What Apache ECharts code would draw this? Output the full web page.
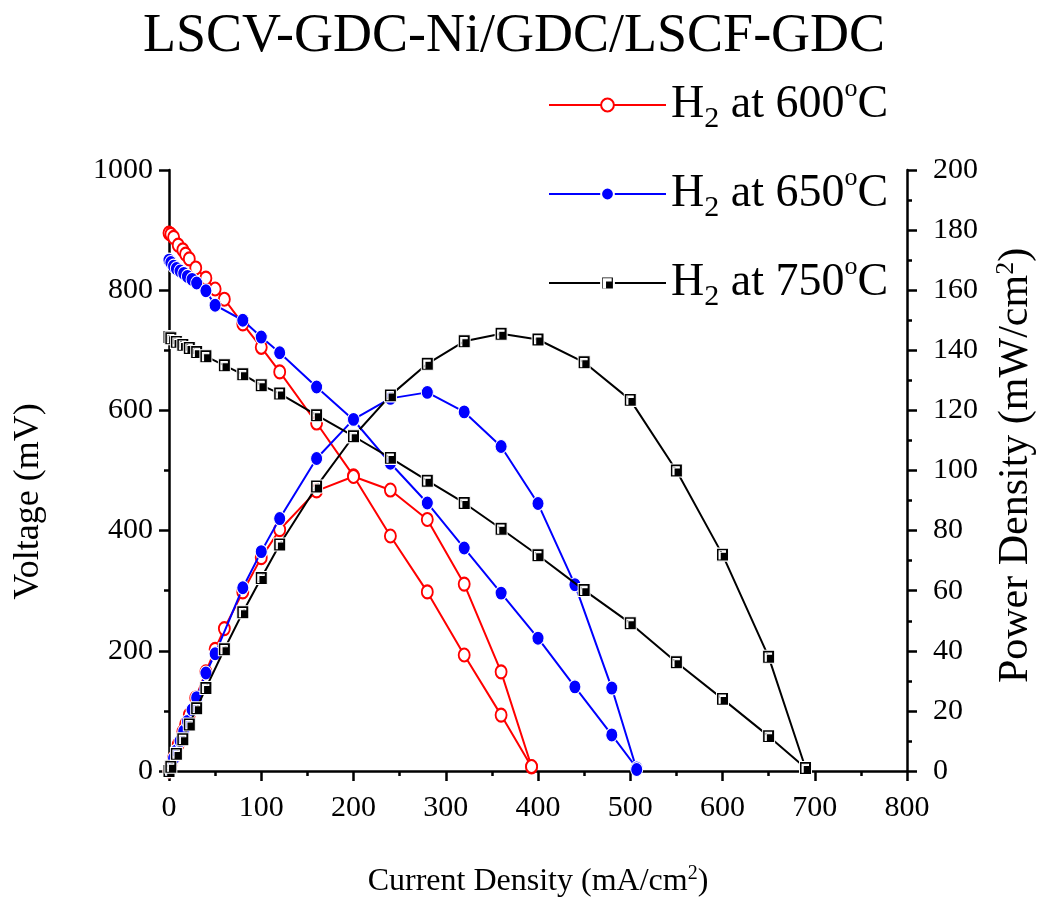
<!DOCTYPE html>
<html>
<head>
<meta charset="utf-8">
<script src="https://cdn.jsdelivr.net/npm/echarts@6/dist/echarts.min.js"></script>
<style>html,body{margin:0;padding:0;background:#fff}#c{width:1040px;height:898px}</style>
</head>
<body>
<div id="c"></div>
<script>
const titleText = 'LSCV-GDC-Ni/GDC/LSCF-GDC';
const seriesNames = ['H{sub|2} at 600{sup|o}C', 'H{sub|2} at 650{sup|o}C', 'H{sub|2} at 750{sup|o}C'];

const currentRed = [0, 2, 5, 10, 15, 18, 22, 29, 40, 50, 60, 80, 100, 120, 160, 200, 240, 280, 320, 360, 393];
const voltageRed = [895, 893, 888, 875, 867, 860, 852, 837, 820, 802, 785, 744, 705, 664, 579, 491, 391, 298, 193, 93, 7];
const powerRed = [0, 1.8, 4.4, 8.8, 13, 15.5, 18.7, 24.3, 33, 40.5, 47.4, 59.6, 71, 80.3, 93.2, 98, 93.5, 83.7, 62.2, 33, 1.5];

const currentBlue = [0, 2, 5, 8, 12, 16, 20, 25, 30, 40, 50, 80, 100, 120, 160, 200, 240, 280, 320, 360, 400, 440, 480, 507];
const voltageBlue = [850, 846, 840, 836, 832, 828, 823, 818, 812, 799, 775, 750, 722, 696, 639, 584, 512, 446, 371, 296, 221, 140, 60, 5];
const powerBlue = [0, 1.7, 4.2, 6.7, 10, 13.2, 16.5, 20.4, 24.4, 32.6, 39, 61, 73, 84, 104, 117, 124, 126, 119.5, 108, 89, 62, 27.6, 0.5];

const currentBlack = [0, 2, 8, 15, 22, 30, 40, 60, 80, 100, 120, 160, 200, 240, 280, 320, 360, 400, 450, 500, 550, 600, 650, 690];
const voltageBlack = [722, 720, 714, 709, 704, 697, 690, 675, 660, 642, 628, 592, 557, 521, 483, 446, 403, 359, 301, 246, 181, 120, 58, 5];
const powerBlack = [0, 1.4, 5.7, 10.6, 15.5, 20.9, 27.6, 40.5, 52.8, 64.2, 75.4, 94.7, 111.4, 125, 135.5, 143, 145.5, 143.6, 136, 123.5, 100, 72, 38, 1];

const xTicks = {min: 0, max: 800, interval: 100};
const vTicks = {min: 0, max: 1000, interval: 200};
const pTicks = {min: 0, max: 200, interval: 20};

const pairs = (xs, ys) => xs.map((x, i) => [x, ys[i]]);
const FONT = 'Liberation Serif';
const squareHole = 'path://M0,0 H12 V12 H0 Z M2.5,10 H3.7 V3.7 H9 V2.5 H2.5 Z';

const styles = [
  {color: '#ff0000', symbol: 'emptyCircle', size: [11, 13], item: {color: '#ff0000', borderColor: '#ff0000', borderWidth: 1.6}},
  {color: '#0000ff', symbol: 'circle', size: [12, 14], item: {color: '#0000ff', borderColor: '#ffffff', borderWidth: 1}},
  {color: '#000000', symbol: squareHole, size: [12, 13], item: {color: '#000000', borderColor: '#ffffff', borderWidth: 1}}
];
const dataSets = [
  [currentRed, voltageRed, powerRed],
  [currentBlue, voltageBlue, powerBlue],
  [currentBlack, voltageBlack, powerBlack]
];

const series = [];
dataSets.forEach((d, k) => {
  const s = styles[k];
  [1, 2].forEach(j => {
    series.push({
      name: seriesNames[k],
      type: 'line',
      yAxisIndex: j - 1,
      data: pairs(d[0], d[j]),
      symbol: s.symbol,
      symbolSize: s.size,
      showAllSymbol: true,
      lineStyle: {color: s.color, width: 2},
      itemStyle: s.item,
      color: s.color,
      z: 3 + k
    });
  });
});

const richText = {
  sub: {fontFamily: FONT, fontSize: 30, color: '#000', verticalAlign: 'bottom', padding: [28, 0, 0, 0]},
  sup: {fontFamily: FONT, fontSize: 26, color: '#000', verticalAlign: 'top', padding: [0, 0, 18, 0]}
};

const chart = echarts.init(document.getElementById('c'), null, {renderer: 'canvas'});
chart.setOption({
  animation: false,
  backgroundColor: '#ffffff',
  title: {
    text: titleText,
    left: 138,
    top: 5,
    textStyle: {fontFamily: FONT, fontSize: 54, fontWeight: 'normal', color: '#000'}
  },
  legend: {
    orient: 'vertical',
    left: 543,
    top: 71,
    itemWidth: 117,
    itemHeight: 16,
    itemGap: 31,
    data: seriesNames,
    textStyle: {fontFamily: FONT, fontSize: 46, color: '#000', rich: richText}
  },
  grid: {left: 169, right: 133, top: 170, bottom: 127, containLabel: false, outerBoundsMode: 'none'},
  xAxis: {
    type: 'value',
    min: xTicks.min, max: xTicks.max, interval: xTicks.interval,
    name: 'Current Density (mA/cm{s|2})',
    nameLocation: 'middle',
    nameGap: 93,
    nameTextStyle: {fontFamily: FONT, fontSize: 32, color: '#000',
      rich: {s: {fontFamily: FONT, fontSize: 20, color: '#000', padding: [0, 0, 16, 0]}}},
    axisLine: {lineStyle: {color: '#000', width: 2.5}},
    axisTick: {inside: false, length: 10, lineStyle: {color: '#000', width: 2.5}},
    minorTick: {show: true, splitNumber: 2, length: 5, lineStyle: {color: '#000', width: 2.5}},
    axisLabel: {fontFamily: FONT, fontSize: 30, color: '#000', margin: 22},
    splitLine: {show: false}
  },
  yAxis: [
    {
      type: 'value',
      position: 'left',
      min: vTicks.min, max: vTicks.max, interval: vTicks.interval,
      name: 'Voltage (mV)',
      nameLocation: 'middle',
      nameRotate: 90,
      nameGap: 122,
      nameTextStyle: {fontFamily: FONT, fontSize: 36, color: '#000', padding: [0, 62, 0, 0]},
      axisLine: {show: true, lineStyle: {color: '#000', width: 2.5}},
      axisTick: {show: true, inside: false, length: 10, lineStyle: {color: '#000', width: 2.5}},
      minorTick: {show: true, splitNumber: 2, length: 5, lineStyle: {color: '#000', width: 2.5}},
      axisLabel: {fontFamily: FONT, fontSize: 30, color: '#000', margin: 16, formatter: v => String(v)},
      splitLine: {show: false}
    },
    {
      type: 'value',
      position: 'right',
      min: pTicks.min, max: pTicks.max, interval: pTicks.interval,
      name: 'Power Density (mW/cm{s|2})',
      nameLocation: 'middle',
      nameRotate: 90,
      nameGap: 86,
      nameTextStyle: {fontFamily: FONT, fontSize: 42, color: '#000', padding: [0, 0, 0, 10],
        rich: {s: {fontFamily: FONT, fontSize: 26, color: '#000', padding: [0, 0, 20, 0]}}},
      axisLine: {show: true, lineStyle: {color: '#000', width: 2.5}},
      axisTick: {show: true, inside: false, length: 10, lineStyle: {color: '#000', width: 2.5}},
      minorTick: {show: true, splitNumber: 2, length: 5, lineStyle: {color: '#000', width: 2.5}},
      axisLabel: {fontFamily: FONT, fontSize: 30, color: '#000', margin: 26, formatter: v => String(v)},
      splitLine: {show: false}
    }
  ],
  series: series
});
</script>
</body>
</html>
